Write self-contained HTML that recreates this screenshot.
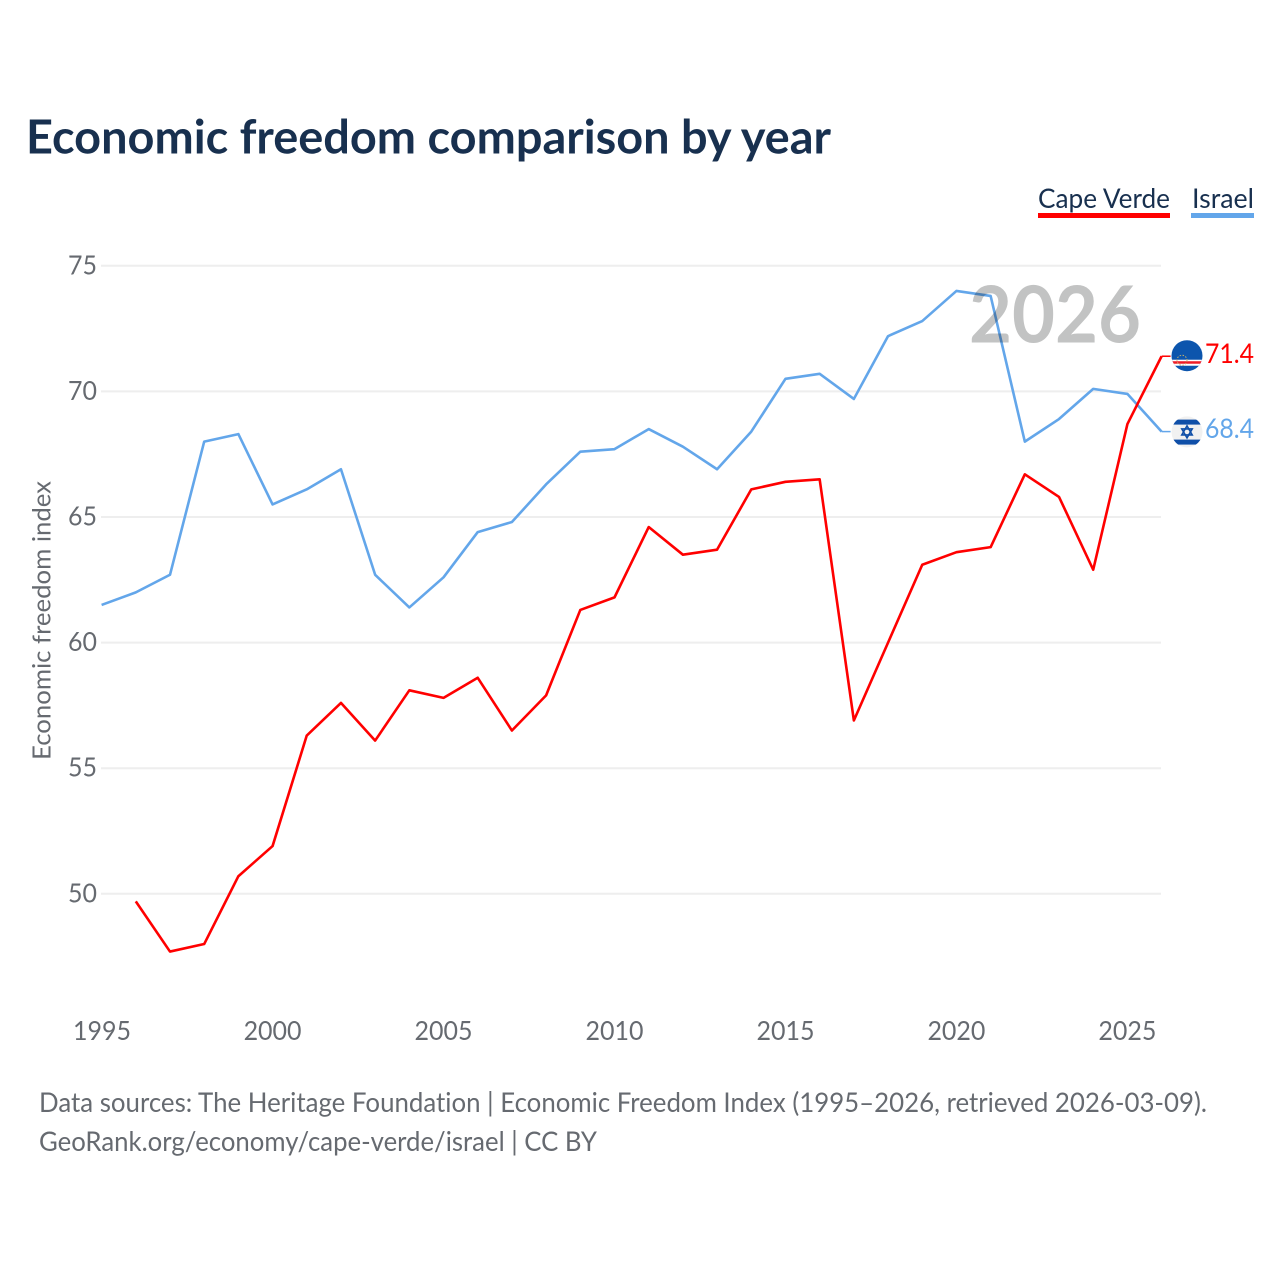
<!DOCTYPE html>
<html lang="en">
<head>
<meta charset="utf-8">
<title>Economic freedom comparison by year</title>
<style>
html,body{margin:0;padding:0;background:#fff;width:1280px;height:1280px;overflow:hidden}
svg{display:block}
text{font-family:"Lato","Carlito","Liberation Sans",sans-serif;font-variant-ligatures:none}
</style>
</head>
<body>
<svg id="chart" xmlns="http://www.w3.org/2000/svg" width="1280" height="1280" viewBox="0 0 1280 1280">
  <rect width="1280" height="1280" fill="#fff"/>
  <text x="26" y="153.5" font-size="47" font-weight="700" fill="#18304f" textLength="805" lengthAdjust="spacingAndGlyphs">Economic freedom comparison by year</text>

  <g>
    <text x="1038" y="208" font-size="27.5" fill="#18304f" textLength="132" lengthAdjust="spacingAndGlyphs">Cape Verde</text>
    <rect x="1038" y="213" width="132" height="5" fill="#ff0000"/>
  </g>
  <g>
    <text x="1192" y="208" font-size="27.5" fill="#18304f" textLength="62" lengthAdjust="spacingAndGlyphs">Israel</text>
    <rect x="1191" y="213" width="63" height="5" fill="#63a6ea"/>
  </g>

  <g id="grid"></g>
  <g id="yticks"></g>
  <g id="xticks"></g>
  <text transform="translate(50.5,760) rotate(-90)" font-size="25.5" fill="#666a70" textLength="279" lengthAdjust="spacingAndGlyphs">Economic freedom index</text>

  <g id="series"></g>
  <text id="year-watermark" x="969" y="342.5" font-size="79" font-weight="700" fill="#c2c3c3" textLength="172" lengthAdjust="spacingAndGlyphs" style="mix-blend-mode:multiply">2026</text>

  <g id="end-labels"></g>

  <text x="39" y="1112" font-size="27" fill="#666a70" textLength="1168" lengthAdjust="spacingAndGlyphs">Data sources: The Heritage Foundation | Economic Freedom Index (1995–2026, retrieved 2026-03-09).</text>
  <text x="39" y="1151" font-size="27" fill="#666a70" textLength="558" lengthAdjust="spacingAndGlyphs">GeoRank.org/economy/cape-verde/israel | CC BY</text>
</svg>
<script>
const NS = 'http://www.w3.org/2000/svg';
const years = [1995,1996,1997,1998,1999,2000,2001,2002,2003,2004,2005,2006,2007,2008,2009,2010,2011,2012,2013,2014,2015,2016,2017,2018,2019,2020,2021,2022,2023,2024,2025,2026];
const capeVerde = [null,49.7,47.7,48.0,50.7,51.9,56.3,57.6,56.1,58.1,57.8,58.6,56.5,57.9,61.3,61.8,64.6,63.5,63.7,66.1,66.4,66.5,56.9,60.0,63.1,63.6,63.8,66.7,65.8,62.9,68.7,71.4];
const israel = [61.5,62.0,62.7,68.0,68.3,65.5,66.1,66.9,62.7,61.4,62.6,64.4,64.8,66.3,67.6,67.7,68.5,67.8,66.9,68.4,70.5,70.7,69.7,72.2,72.8,74.0,73.8,68.0,68.9,70.1,69.9,68.4];
const yTicks = [50,55,60,65,70,75];
const xTicks = [1995,2000,2005,2010,2015,2020,2025];

function xScale(year){ return 101.6 + (year - 1995) * (1060 / 31); }
function yScale(v){ return 893.8 - (v - 50) * (628 / 25); }
function make(tag, parent, attrs){
  const el = document.createElementNS(NS, tag);
  for (const k in attrs) el.setAttribute(k, attrs[k]);
  parent.appendChild(el);
  return el;
}

const grid = document.getElementById('grid');
const yG = document.getElementById('yticks');
const xG = document.getElementById('xticks');
yTicks.forEach(function(t){
  const line = make('line', grid, {x1:101, x2:1161, y1:yScale(t), y2:yScale(t), stroke:'#eeeeee', 'stroke-width':2});
  
  
  const label = make('text', yG, {x:68, y:yScale(t)+8.5, 'font-size':26, fill:'#666a70', textLength:29, lengthAdjust:'spacingAndGlyphs'});
  label.textContent = t;
  
  
});
xTicks.forEach(function(t){
  const cx = xScale(t);
  const anchorX = t === 1995 ? 73 : cx - 29;
  const label = make('text', xG, {x:anchorX, y:1040, 'font-size':26, fill:'#666a70', textLength:58, lengthAdjust:'spacingAndGlyphs'});
  label.textContent = t;
  
  
});

function linePath(values){
  let d = '';
  values.forEach(function(v, i){
    if (v === null) return;
    d += (d ? 'L' : 'M') + xScale(years[i]).toFixed(2) + ' ' + yScale(v).toFixed(2);
  });
  return d;
}
const seriesG = document.getElementById('series');
const lastX = xScale(years[years.length - 1]);

const israelLine = make('path', seriesG, {d:linePath(israel), fill:'none', stroke:'#63a6ea', 'stroke-width':2.6, 'stroke-linejoin':'round'});


const cvLine = make('path', seriesG, {d:linePath(capeVerde), fill:'none', stroke:'#ff0000', 'stroke-width':2.6, 'stroke-linejoin':'round'});



const endG = document.getElementById('end-labels');
const cvVal = capeVerde[capeVerde.length - 1];
const ilVal = israel[israel.length - 1];
const cvY = yScale(cvVal);
const ilY = yScale(ilVal);

const c1 = make('line', endG, {x1:lastX, x2:lastX+9, y1:cvY, y2:cvY, stroke:'#ff0000', 'stroke-width':1.5});


const c2 = make('line', endG, {x1:lastX, x2:lastX+9, y1:ilY, y2:ilY, stroke:'#63a6ea', 'stroke-width':1.5});



const defs = make('defs', endG, {});
const clip1 = make('clipPath', defs, {id:'clip-cv'});
make('circle', clip1, {cx:1187, cy:cvY - 0.5, r:15.5});
const clip2 = make('clipPath', defs, {id:'clip-il'});
make('circle', clip2, {cx:1187, cy:ilY + 0.3, r:15.5});

const f1 = make('g', endG, {'clip-path':'url(#clip-cv)'});


make('rect', f1, {x:1170, y:cvY-17, width:34, height:34, fill:'#0c55ad'});
make('rect', f1, {x:1170, y:cvY+3.5, width:34, height:6, fill:'#ffffff'});
make('rect', f1, {x:1170, y:cvY+5, width:34, height:2.5, fill:'#ef1c25'});
make('circle', f1, {cx:1182, cy:cvY+4, r:5, fill:'none', stroke:'#c9b26a', 'stroke-width':1, 'stroke-dasharray':'1.5 1.5'});

const f2 = make('g', endG, {'clip-path':'url(#clip-il)'});


make('rect', f2, {x:1170, y:ilY-17, width:34, height:34, fill:'#f1f1f1'});
make('rect', f2, {x:1170, y:ilY-12, width:34, height:5, fill:'#0f4fa8'});
make('rect', f2, {x:1170, y:ilY+8, width:34, height:5, fill:'#0f4fa8'});
function triangle(cx, cy, r, up){
  const s = up ? -1 : 1;
  const pts = [[cx, cy + s*r], [cx - r*0.87, cy - s*r*0.5], [cx + r*0.87, cy - s*r*0.5]];
  return pts.map(function(p){ return p[0].toFixed(1) + ',' + p[1].toFixed(1); }).join(' ');
}
make('polygon', f2, {points:triangle(1187, ilY + 0.3, 6, true), fill:'none', stroke:'#0f4fa8', 'stroke-width':1.6});
make('polygon', f2, {points:triangle(1187, ilY + 0.3, 6, false), fill:'none', stroke:'#0f4fa8', 'stroke-width':1.6});

const l1 = make('text', endG, {x:1205, y:cvY+7, 'font-size':27, fill:'#ff0000', textLength:49, lengthAdjust:'spacingAndGlyphs'});
l1.textContent = cvVal.toFixed(1);


const l2 = make('text', endG, {x:1205, y:ilY+6.5, 'font-size':27, fill:'#63a6ea', textLength:49, lengthAdjust:'spacingAndGlyphs'});
l2.textContent = ilVal.toFixed(1);


</script>
</body>
</html>
